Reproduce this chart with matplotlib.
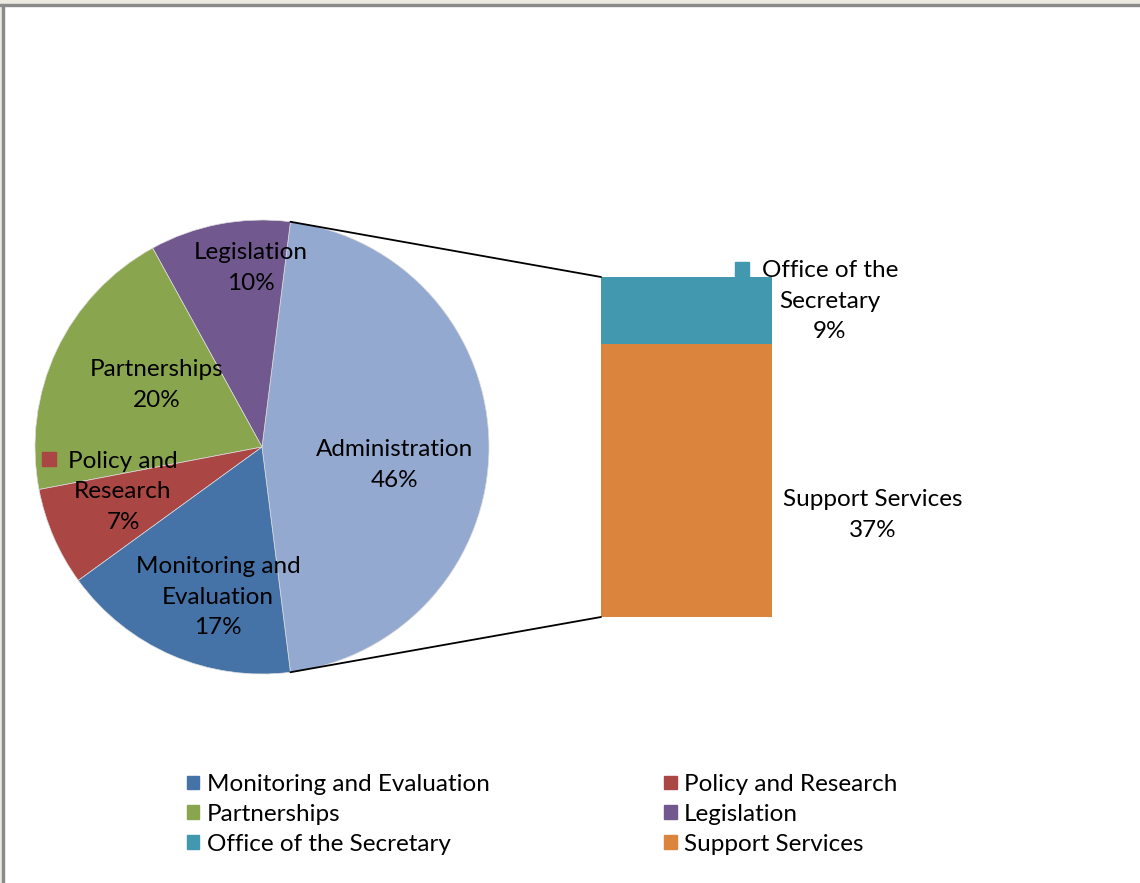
import matplotlib.pyplot as plt
import numpy as np
from matplotlib.patches import Patch, Rectangle, ConnectionPatch

plt.rcParams['font.family'] = ['Lato', 'DejaVu Sans']

# pie part (Administration is split into the bar on the right)
pie_labels = ['Administration', 'Legislation', 'Partnerships', 'Policy and Research', 'Monitoring and Evaluation']
pie_values = [46, 10, 20, 7, 17]
pie_colors = ['#93a9cf', '#71588f', '#89a54e', '#aa4643', '#4572a7']

# bar part (breakdown of Administration)
bar_labels = ['Support Services', 'Office of the Secretary']
bar_values = [37, 9]
bar_colors = ['#db843d', '#4198af']

W, H = 1140, 883
fig = plt.figure(figsize=(W / 100, H / 100), dpi=100)

# window frame look
fig.patches.append(Rectangle((0, 1 - 5 / H), 1, 5 / H, transform=fig.transFigure, color='#ece9e1', zorder=0))
fig.patches.append(Rectangle((0, 1 - 6 / H), 1, 2 / H, transform=fig.transFigure, color='#8a8a8a', zorder=1))
fig.patches.append(Rectangle((0, 0), 2 / W, 1, transform=fig.transFigure, color='#ece9e1', zorder=0))
fig.patches.append(Rectangle((2 / W, 0), 2 / W, 1 - 5 / H, transform=fig.transFigure, color='#8a8a8a', zorder=1))

def fx(px):
    return px / W

def fy(py):
    return 1 - py / H

# pie axes
ax = fig.add_axes([fx(35), fy(674), 454 / W, 454 / H])
start = -pie_values[0] * 3.6 / 2
wedges, _ = ax.pie(pie_values, colors=pie_colors, startangle=start, counterclock=True,
                   wedgeprops=dict(linewidth=0.5, edgecolor='#dddddd'))
ax.set_xlim(-1, 1)
ax.set_ylim(-1, 1)
ax.set_aspect('auto')

# bar axes
ax2 = fig.add_axes([fx(601), fy(617), 171 / W, 340 / H])
bottom = 0
for v, c in zip(bar_values, bar_colors):
    ax2.bar(0, v, width=1, bottom=bottom, color=c)
    bottom += v
ax2.set_xlim(-0.5, 0.5)
ax2.set_ylim(0, sum(bar_values))
ax2.axis('off')

# connecting lines
for ang, yb in [(wedges[0].theta2, sum(bar_values)), (wedges[0].theta1, 0)]:
    p = (np.cos(np.radians(ang)), np.sin(np.radians(ang)))
    con = ConnectionPatch(xyA=p, coordsA=ax.transData, xyB=(-0.5, yb), coordsB=ax2.transData,
                          color='black', linewidth=1.3)
    fig.add_artist(con)

fs = 17.5
ls = 1.55
fig.text(fx(251), fy(268), 'Legislation\n10%', ha='center', va='center', fontsize=fs, linespacing=ls)
fig.text(fx(157), fy(385), 'Partnerships\n20%', ha='center', va='center', fontsize=fs, linespacing=ls)
fig.text(fx(123), fy(492), 'Policy and\nResearch\n7%', ha='center', va='center', fontsize=fs, linespacing=ls)
fig.text(fx(218), fy(597), 'Monitoring and\nEvaluation\n17%', ha='center', va='center', fontsize=fs, linespacing=ls)
fig.text(fx(395), fy(465), 'Administration\n46%', ha='center', va='center', fontsize=fs, linespacing=ls)
fig.text(fx(830), fy(301), 'Office of the\nSecretary\n9%', ha='center', va='center', fontsize=fs, linespacing=ls)
fig.text(fx(873), fy(515), 'Support Services\n37%', ha='center', va='center', fontsize=fs, linespacing=ls)

# small colour keys next to some labels
fig.patches.append(Rectangle((fx(42), fy(466)), 14 / W, 14 / H, transform=fig.transFigure, color=pie_colors[3]))
fig.patches.append(Rectangle((fx(735), fy(276)), 14 / W, 14 / H, transform=fig.transFigure, color=bar_colors[1]))

# legend: columns filled first
order = [('Monitoring and Evaluation', pie_colors[4]), ('Partnerships', pie_colors[2]),
         ('Office of the Secretary', bar_colors[1]), ('Policy and Research', pie_colors[3]),
         ('Legislation', pie_colors[1]), ('Support Services', bar_colors[0])]
handles = [Patch(color=c, label=l) for l, c in order]
fig.legend(handles=handles, ncol=2, loc='upper left', bbox_to_anchor=(fx(175), fy(762)),
           frameon=False, fontsize=fs, handlelength=0.5, handleheight=0.5, handletextpad=0.3,
           columnspacing=7.2, labelspacing=0.36, borderpad=0)

fig.savefig('out.png', dpi=100)
